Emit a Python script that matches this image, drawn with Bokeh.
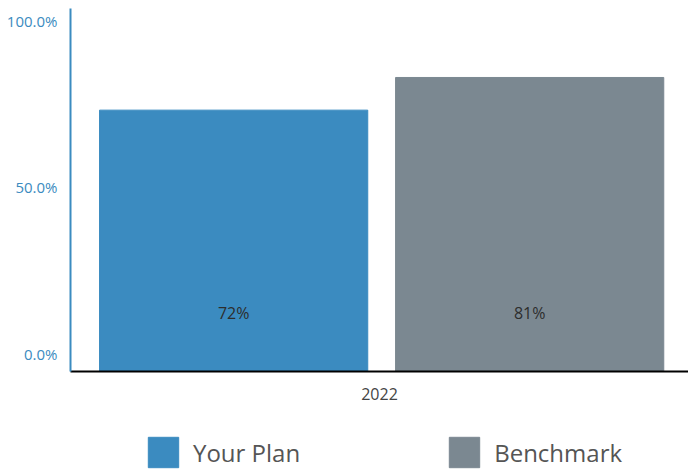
from bokeh.plotting import figure
from bokeh.layouts import column
from bokeh.models import (ColumnDataSource, FactorRange, Range1d, LinearAxis, FixedTicker,
                          NumeralTickFormatter, Legend, LegendItem)
from bokeh.transform import dodge
from bokeh.core.properties import value
from bokeh.embed import file_html
from bokeh.resources import INLINE

# ---- data ----
years = ["2022"]
series_names = ["Your Plan", "Benchmark"]
your_plan = [0.72]
benchmark = [0.81]
y_ticks = [0.0, 0.5, 1.0]

BLUE = "#3b8bc0"
GREY = "#7b8891"
FONT = "Open Sans"

src_plan = ColumnDataSource(dict(year=years, val=your_plan,
                                 lab=[f"{v*100:.0f}%" for v in your_plan]))
src_bench = ColumnDataSource(dict(year=years, val=benchmark,
                                  lab=[f"{v*100:.0f}%" for v in benchmark]))

p = figure(width=688, height=420, x_range=FactorRange(*years), y_range=Range1d(0, 1),
           output_backend="svg", toolbar_location=None, tools="")
p.min_border_left = 70
p.min_border_right = 0
p.min_border_top = 8
p.min_border_bottom = 49
p.outline_line_color = None
p.xgrid.visible = False
p.ygrid.visible = False
p.yaxis.visible = False

bw = 0.434
r1 = p.vbar(x=dodge("year", -0.236, range=p.x_range), top="val", width=bw,
            source=src_plan, color=BLUE)
r2 = p.vbar(x=dodge("year", 0.243, range=p.x_range), top="val", width=bw,
            source=src_bench, color=GREY)

label_y = 0.162
for src, off in ((src_plan, -0.236), (src_bench, 0.243)):
    p.text(x=dodge("year", off, range=p.x_range), y=label_y, text="lab", source=src,
           text_align="center", text_baseline="middle", text_font=value(FONT),
           text_font_size="16px", text_color="#2d2d2d")

# y tick labels on a separate scale (as they appear in the reference)
p.extra_y_ranges = {"lab": Range1d(-0.0511, 1.036)}
yax = LinearAxis(y_range_name="lab", ticker=FixedTicker(ticks=y_ticks),
                 formatter=NumeralTickFormatter(format="0.0%"))
yax.axis_line_color = BLUE
yax.axis_line_width = 2
yax.major_tick_line_color = None
yax.minor_tick_line_color = None
yax.major_label_text_color = BLUE
yax.major_label_text_font = FONT
yax.major_label_text_font_size = "15px"
yax.major_label_standoff = 7
p.add_layout(yax, "left")

xax = p.xaxis[0]
xax.axis_line_color = "black"
xax.axis_line_width = 2
xax.major_tick_line_color = None
xax.minor_tick_line_color = None
xax.major_label_text_font = FONT
xax.major_label_text_font_size = "16px"
xax.major_label_text_color = "#444444"
xax.major_label_standoff = 10

# ---- legend strip (same series, same colours; data sits outside the view) ----
p2 = figure(width=688, height=49, x_range=Range1d(0, 1), y_range=Range1d(0, 1),
            output_backend="svg", toolbar_location=None, tools="")
p2.min_border = 0
p2.outline_line_color = None
p2.axis.visible = False
p2.grid.visible = False
hidden = ColumnDataSource(dict(x=[-10.0], top=[-10.0]))
lr1 = p2.vbar(x="x", top="top", width=0.1, color=BLUE, source=hidden)
lr2 = p2.vbar(x="x", top="top", width=0.1, color=GREY, source=hidden)
legend = Legend(items=[LegendItem(label=series_names[0], renderers=[lr1]),
                       LegendItem(label=series_names[1], renderers=[lr2])],
                orientation="horizontal", location=(74, -2))
legend.glyph_width = 38
legend.glyph_height = 38
legend.label_standoff = 11
legend.spacing = 145
legend.label_text_font = FONT
legend.label_text_font_size = "24px"
legend.label_text_color = "#555555"
legend.border_line_color = None
legend.background_fill_alpha = 0
legend.padding = 0
legend.margin = 0
p2.add_layout(legend)

open("out.html", "w").write(file_html(column(p, p2, spacing=0), INLINE))
